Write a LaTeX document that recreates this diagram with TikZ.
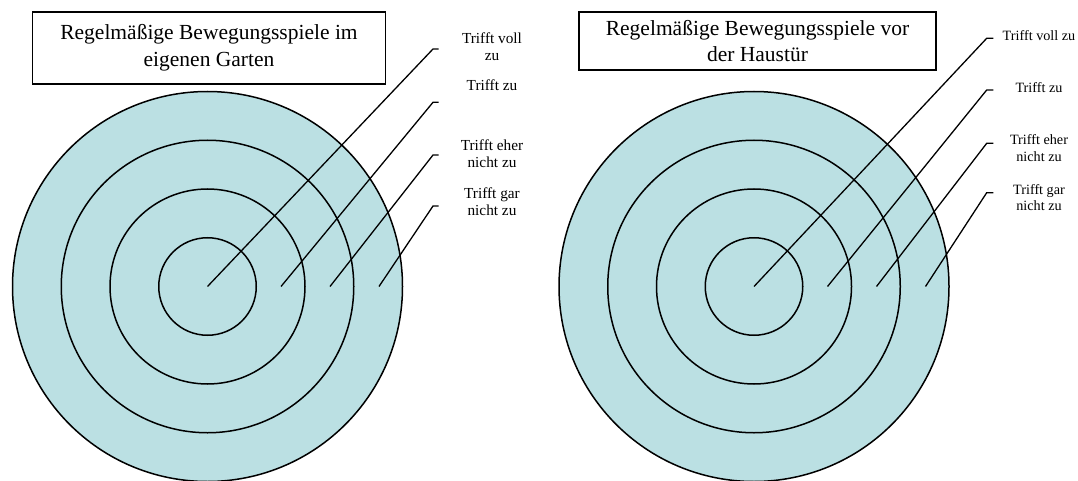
\documentclass[tikz,border=0pt]{standalone}
\usepackage{fontspec}
\setmainfont{Liberation Serif}
\usepackage{tikz}
\usetikzlibrary{positioning, calc}
\definecolor{ringfill}{RGB}{187, 224, 227}

\tikzset{
  ring/.style={draw=black, fill=ringfill, line width=1.5pt},
  titlebox/.style={draw=black, line width=1.7pt, align=center, inner sep=0pt,
    font=\fontsize{21.5}{26.5}\selectfont},
  leader/.style={draw=black, line width=1.3pt},
  labelL/.style={align=center, inner sep=0pt, font=\fontsize{15.3}{17.5}\selectfont},
  labelR/.style={align=center, inner sep=0pt, font=\fontsize{14.2}{16.8}\selectfont}
}

\begin{document}
\begin{tikzpicture}[x=1pt, y=-1pt]
  \useasboundingbox (0,0) rectangle (1078,481);

  % titles
  \node[titlebox, minimum width=353pt, minimum height=72pt] (titleL) at (209,48)
    {Regelmäßige Bewegungsspiele im\\eigenen Garten};
  \node[titlebox, minimum width=357pt, minimum height=58pt] (titleR) at (757.5,41)
    {Regelmäßige Bewegungsspiele vor\\der Haustür};

  % targets
  \coordinate (cL) at (207.5,286.5);
  \coordinate (cR) at (754,286.5);
  \foreach \r in {195,146.25,97.5,48.75} {
    \draw[ring] (cL) circle[radius=\r pt];
    \draw[ring] (cR) circle[radius=\r pt];
  }

  % labels left
  \node[labelL] (lL1) at (492,46.5) {Trifft voll\\zu};
  \node[labelL] (lL2) at (492,85) {Trifft zu};
  \node[labelL] (lL3) at (492,153.5) {Trifft eher\\nicht zu};
  \node[labelL] (lL4) at (492,201.5) {Trifft gar\\nicht zu};

  % labels right
  \node[labelR] (lR1) at (1039,36) {Trifft voll zu};
  \node[labelR] (lR2) at (1039,88) {Trifft zu};
  \node[labelR] (lR3) at (1039,147.7) {Trifft eher\\nicht zu};
  \node[labelR] (lR4) at (1039,197.6) {Trifft gar\\nicht zu};

  % leaders
  \foreach \i/\dx/\ty in {1/0/49, 2/73.5/102.3, 3/122.5/155, 4/171.5/206} {
    \coordinate (sL\i) at ($(cL)+(\dx,0)$);
    \coordinate (eL\i) at (433,\ty);
    \coordinate (tL\i) at (438.5,\ty);
    \draw[leader] (sL\i) -- (eL\i) -- (tL\i);
  }
  \foreach \i/\dx/\ty in {1/0/38.3, 2/73.5/90, 3/122.5/143.3, 4/171.5/192.7} {
    \coordinate (sR\i) at ($(cR)+(\dx,0)$);
    \coordinate (eR\i) at (986.7,\ty);
    \coordinate (tR\i) at (993.3,\ty);
    \draw[leader] (sR\i) -- (eR\i) -- (tR\i);
  }
\end{tikzpicture}
\end{document}
